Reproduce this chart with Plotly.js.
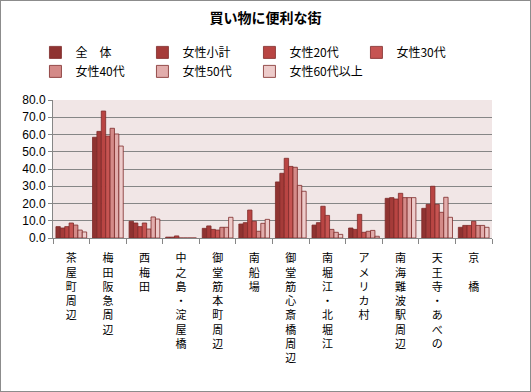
<!DOCTYPE html>
<html>
<head>
<meta charset="utf-8">
<script src="https://cdn.plot.ly/plotly-3.0.1.min.js"></script>
<style>
html,body{margin:0;padding:0;background:#fff;}
#chart{width:531px;height:392px;box-sizing:border-box;border:1px solid #8c8c8c;}
</style>
</head>
<body>
<div id="chart"></div>
<script>
const categories = ["茶屋町周辺","梅田阪急周辺","西梅田","中之島・淀屋橋","御堂筋本町周辺","南船場","御堂筋心斎橋周辺","南堀江・北堀江","アメリカ村","南海難波駅周辺","天王寺・あべの","京　橋"];
const seriesNames = ["全　体","女性小計","女性20代","女性30代","女性40代","女性50代","女性60代以上"];
const zentai   = [6.6, 58.4, 9.7, 0.5, 5.6, 8.1, 32.5, 7.5, 5.8, 23.0, 17.2, 6.2];
const joseiSum = [5.8, 61.8, 8.7, 0.5, 7.0, 8.9, 37.5, 8.9, 5.0, 23.4, 19.5, 7.3];
const josei20  = [6.6, 73.6, 6.6, 1.2, 5.0, 16.2, 46.2, 18.4, 13.7, 22.6, 30.0, 7.3];
const josei30  = [8.7, 59.1, 8.7, 0, 4.6, 9.7, 41.5, 13.1, 3.3, 25.9, 19.5, 9.7];
const josei40  = [7.5, 63.6, 5.2, 0, 6.2, 3.9, 41.0, 5.0, 3.9, 23.4, 14.9, 7.3];
const josei50  = [4.6, 60.3, 12.2, 0, 6.2, 8.5, 30.5, 3.3, 4.4, 23.4, 23.6, 7.3];
const josei60  = [3.5, 53.3, 11.0, 0, 12.0, 10.8, 27.1, 2.1, 1.0, 23.4, 12.0, 6.2];
const yTicks = [0,10,20,30,40,50,60,70,80];

const allSeries = [zentai, joseiSum, josei20, josei30, josei40, josei50, josei60];
const colors = ["#8f3331","#a53b39","#b94543","#c65452","#d48a88","#e2adac","#edcbca"];
const vertLabels = categories.map(c => Array.from(c).join("<br>"));

const traces = allSeries.map((vals, i) => ({
  type: "bar",
  name: seriesNames[i],
  x: vertLabels,
  y: vals,
  marker: {color: colors[i], line: {color: "#7e2a28", width: 0.8}},
  hoverinfo: "skip"
}));

const layout = {
  width: 529, height: 390,
  margin: {l: 52, r: 38, t: 99, b: 153},
  paper_bgcolor: "#ffffff",
  plot_bgcolor: "#f1e6e6",
  font: {family: "Noto Sans CJK JP, sans-serif", color: "#000", size: 12},
  title: {text: "<b>買い物に便利な街</b>", x: 0.5, xanchor: "center", y: 0.955, yanchor: "middle",
          font: {family: "Noto Sans CJK JP, sans-serif", size: 14, color: "#000"}},
  barmode: "group",
  bargap: 0.16,
  bargroupgap: 0,
  showlegend: true,
  legend: {orientation: "h", x: -0.04, xanchor: "left", y: 1.45, yanchor: "top",
           entrywidth: 62, entrywidthmode: "pixels", traceorder: "normal",
           font: {size: 12, family: "Noto Sans CJK JP, sans-serif"}, bgcolor: "rgba(0,0,0,0)"},
  xaxis: {
    type: "category",
    tickson: "boundaries",
    ticks: "outside", ticklen: 5, tickcolor: "#868686",
    showline: true, linecolor: "#868686", linewidth: 1,
    showgrid: false,
    tickangle: 0,
    ticklabelstandoff: 10,
    tickfont: {size: 11, family: "DejaVu Sans, Noto Sans CJK JP, sans-serif"},
    fixedrange: true
  },
  yaxis: {
    range: [0, 80],
    tickvals: yTicks,
    ticktext: yTicks.map(v => v.toFixed(1)),
    ticks: "outside", ticklen: 4, tickcolor: "#868686",
    showline: true, linecolor: "#868686", linewidth: 1,
    showgrid: true, gridcolor: "#868686", gridwidth: 1,
    zeroline: false,
    tickfont: {size: 12, family: "Liberation Sans, Arial, sans-serif"},
    fixedrange: true
  }
};

Plotly.newPlot("chart", traces, layout, {staticPlot: true, displayModeBar: false});
</script>
</body>
</html>
